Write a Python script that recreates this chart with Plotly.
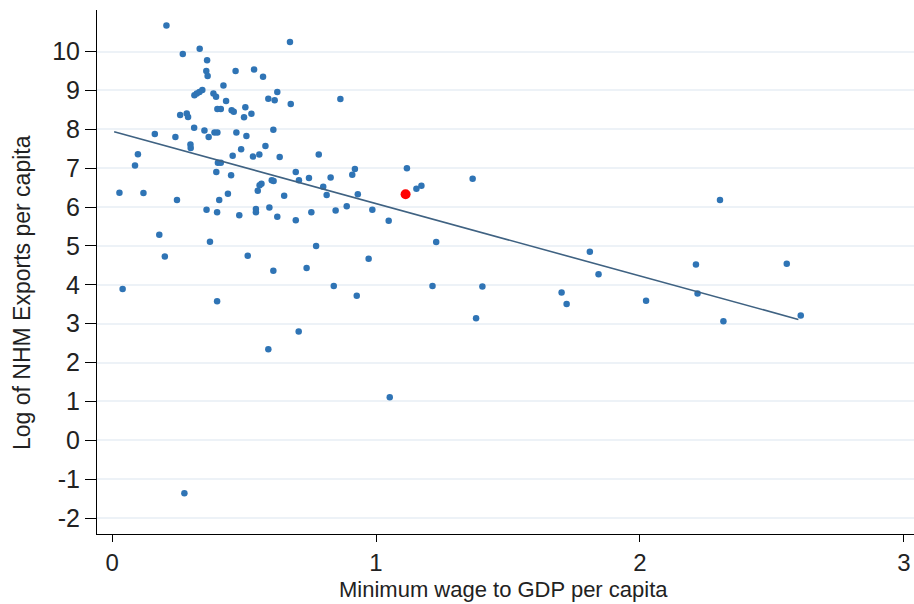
import numpy as np
import plotly.graph_objects as go

# Minimum wage relative to GDP per capita, and log NHM exports per capita
wage_ratio = [
    0.206, 0.674, 0.268, 0.332, 0.360, 0.357, 0.362, 0.468, 0.538, 0.572,
    0.312, 0.321, 0.331, 0.342, 0.384, 0.394, 0.422, 0.432, 0.626, 0.592,
    0.616, 0.677, 0.865, 0.258, 0.283, 0.288, 0.399, 0.412, 0.453, 0.461,
    0.505, 0.500, 0.528, 0.311, 0.350, 0.366, 0.388, 0.399, 0.471, 0.509,
    0.611, 0.162, 0.240, 0.297, 0.298, 0.489, 0.581, 0.098, 0.087, 0.457,
    0.534, 0.558, 0.635, 0.783, 0.401, 0.412, 0.395, 0.451, 0.559, 0.566,
    0.605, 0.612, 0.696, 0.708, 0.746, 0.828, 0.920, 0.910, 1.117, 1.366,
    0.800, 0.813, 0.931, 1.153, 1.172, 0.028, 0.119, 0.246, 0.358, 0.398,
    0.406, 0.439, 0.482, 0.545, 0.545, 0.552, 0.596, 0.626, 0.652, 0.696,
    0.755, 0.847, 0.889, 0.986, 1.048, 1.228, 0.179, 0.200, 0.371, 0.514,
    0.611, 0.737, 0.773, 0.972, 0.040, 0.398, 0.840, 1.214, 1.403, 0.927,
    1.379, 0.707, 0.592, 1.052, 0.274, 2.303, 1.810, 1.843, 2.212, 2.556,
    1.703, 1.722, 2.023, 2.218, 2.316, 2.609,
]
log_exports = [
    10.67, 10.25, 9.94, 10.07, 9.78, 9.50, 9.37, 9.50, 9.54, 9.35,
    8.88, 8.92, 8.96, 9.01, 8.92, 8.84, 9.13, 8.73, 8.96, 8.79,
    8.75, 8.65, 8.78, 8.37, 8.41, 8.32, 8.52, 8.52, 8.49, 8.45,
    8.57, 8.31, 8.40, 8.04, 7.97, 7.80, 7.92, 7.92, 7.92, 7.83,
    7.99, 7.88, 7.80, 7.61, 7.52, 7.49, 7.57, 7.36, 7.07, 7.32,
    7.30, 7.35, 7.29, 7.35, 7.14, 7.14, 6.90, 6.82, 6.56, 6.60,
    6.69, 6.67, 6.90, 6.69, 6.75, 6.76, 6.98, 6.83, 7.00, 6.73,
    6.52, 6.31, 6.33, 6.47, 6.55, 6.37, 6.36, 6.18, 5.93, 5.87,
    6.18, 6.34, 5.79, 5.95, 5.87, 6.42, 5.99, 5.75, 6.29, 5.66,
    5.87, 5.91, 6.02, 5.93, 5.65, 5.10, 5.29, 4.73, 5.11, 4.75,
    4.36, 4.43, 5.00, 4.67, 3.89, 3.58, 3.97, 3.97, 3.96, 3.72,
    3.14, 2.80, 2.34, 1.11, -1.36, 6.18, 4.85, 4.27, 4.52, 4.54,
    3.80, 3.51, 3.59, 3.78, 3.06, 3.21,
]

# Highlighted country
highlight_x = [1.112]
highlight_y = [6.33]

# Linear fit
fit_intercept = 7.954
fit_slope = -1.863
fit_x = np.array([0.008, 2.600])
fit_y = fit_intercept + fit_slope * fit_x

x_ticks = [0, 1, 2, 3]
x_tick_text = ["0", "1", "2", "3"]
y_ticks = list(range(-2, 11))
y_tick_text = [str(v) for v in y_ticks]  # plain hyphen for negatives

x_title = "Minimum wage to GDP per capita"
y_title = "Log of NHM Exports per capita"

FONT = "Liberation Sans, Arial, sans-serif"
TEXT = "#222"

fig = go.Figure()
fig.add_trace(go.Scatter(
    x=wage_ratio, y=log_exports, mode="markers",
    marker=dict(size=6.5, color="#2f74b5"),
    showlegend=False, hoverinfo="skip",
))
fig.add_trace(go.Scatter(
    x=fit_x, y=fit_y, mode="lines",
    line=dict(color="#3f6282", width=1.6),
    showlegend=False, hoverinfo="skip",
))
fig.add_trace(go.Scatter(
    x=highlight_x, y=highlight_y, mode="markers",
    marker=dict(size=10, color="#ff0000"),
    showlegend=False, hoverinfo="skip",
))

fig.update_layout(
    width=914, height=604,
    margin=dict(l=97, r=0, t=10, b=70),
    paper_bgcolor="white", plot_bgcolor="white",
    font=dict(family=FONT, color="black"),
    xaxis=dict(
        range=[-0.057, 3.038], tickvals=x_ticks, ticktext=x_tick_text,
        ticks="outside", ticklen=7, tickwidth=1, tickcolor="black",
        showline=True, linecolor="black", linewidth=1,
        showgrid=False, zeroline=False, automargin=False,
        tickfont=dict(size=24, family=FONT, color=TEXT),
    ),
    yaxis=dict(
        range=[-2.41, 11.07], tickvals=y_ticks, ticktext=y_tick_text,
        ticks="outside", ticklen=11, tickwidth=1, tickcolor="black",
        showline=True, linecolor="black", linewidth=1,
        showgrid=True, gridcolor="#edf2f7", gridwidth=2,
        zeroline=False, automargin=False,
        tickfont=dict(size=25, family=FONT, color=TEXT),
    ),
    annotations=[
        dict(text=x_title, xref="paper", yref="paper", x=0.4976, y=-0.0775,
             xanchor="center", yanchor="top", showarrow=False,
             font=dict(size=22, family=FONT, color=TEXT)),
        dict(text=y_title, xref="paper", yref="paper", x=-0.0918, y=0.4618,
             xanchor="center", yanchor="middle", showarrow=False, textangle=-90,
             font=dict(size=23, family=FONT, color=TEXT)),
    ],
)

fig.write_html("out.html")
